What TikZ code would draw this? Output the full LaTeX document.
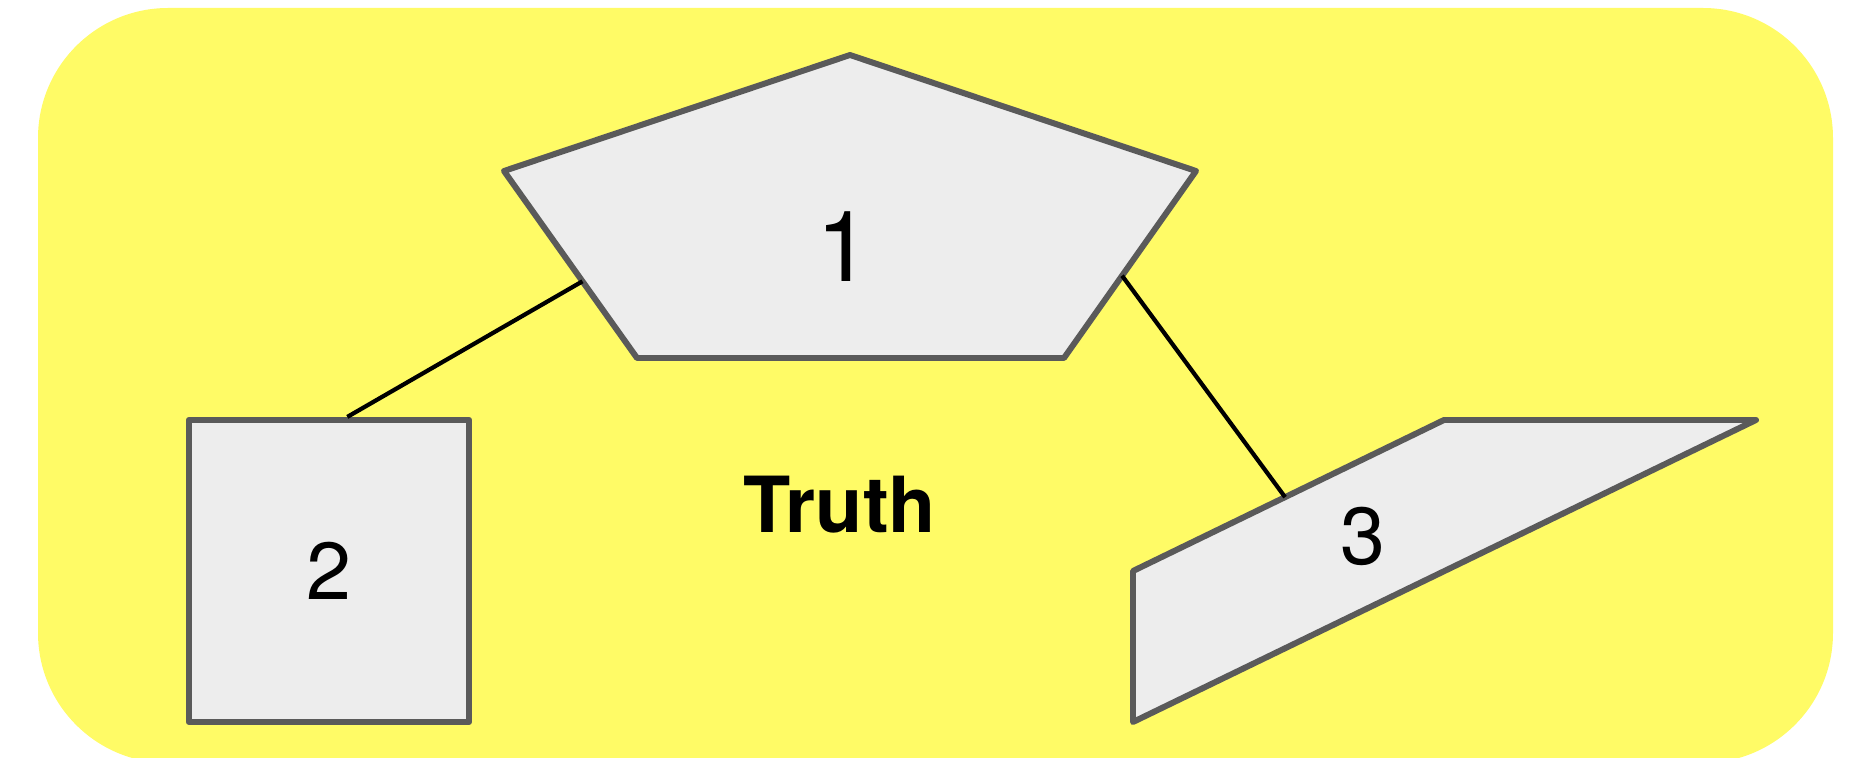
\documentclass[tikz,border=0pt]{standalone}
\usepackage{fontspec}
\setmainfont{TeX Gyre Heros}
\usetikzlibrary{calc}
\definecolor{padyellow}{RGB}{255,251,102}
\definecolor{shapefill}{RGB}{237,237,237}
\definecolor{shapeline}{RGB}{90,90,90}
\tikzset{
  shapebox/.style={fill=shapefill,draw=shapeline,line width=1.7pt,line join=round},
  link/.style={draw=black,line width=1.2pt},
  numlabel/.style={inner sep=0pt,font=\fontsize{23}{23}\selectfont},
}
\begin{document}
\begin{tikzpicture}[x=0.01cm,y=-0.01cm]
\useasboundingbox (0,0) rectangle (1850,758);
\clip (0,0) rectangle (1850,758);
% Background panel
\fill[padyellow,rounded corners=1.3cm] (38,8) rectangle (1833,763);
% Top: wide pentagon
\coordinate (pT) at (850,55);
\coordinate (pR) at (1196,171);
\coordinate (pBR) at (1064,358);
\coordinate (pBL) at (637,358);
\coordinate (pL) at (504,171);
\draw[shapebox] (pT) -- (pR) -- (pBR) -- (pBL) -- (pL) -- cycle;
\node[numlabel,font=\fontsize{28}{28}\selectfont] (one) at (844,247) {1};
% Left: tall box
\node[shapebox,numlabel,minimum width=2.8cm,minimum height=3.02cm] (two) at (329,571) {2};
% Right: slanted quad
\coordinate (qA) at (1133,571);
\coordinate (qB) at (1444,420);
\coordinate (qC) at (1756,420);
\coordinate (qD) at (1133,722);
\draw[shapebox] (qA) -- (qB) -- (qC) -- (qD) -- cycle;
\node[numlabel] (three) at (1363,536) {3};
% Middle: title
\node[inner sep=0pt,font=\bfseries\fontsize{22}{22}\selectfont] (truth) at (840,505) {Truth};
% Links
\coordinate (e12) at ($(pL)!0.59!(pBL)$);
\coordinate (e21) at ($(two.north west)!0.564!(two.north east)$);
\draw[link] (e12) -- (e21);
\coordinate (e13) at ($(pR)!0.56!(pBR)$);
\coordinate (e31) at ($(qA)!0.489!(qB)$);
\draw[link] (e13) -- (e31);
\end{tikzpicture}
\end{document}
